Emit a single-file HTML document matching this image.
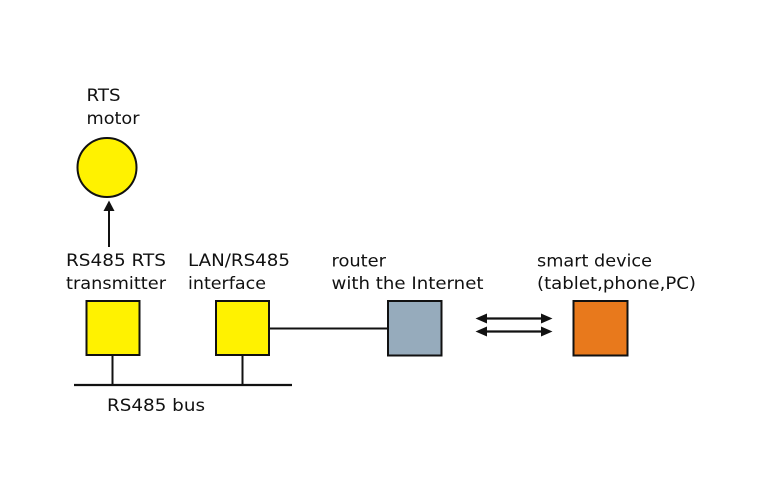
<!DOCTYPE html>
<html><head><meta charset="utf-8"><style>
html,body{margin:0;padding:0;background:#fff;}
svg{display:block;}
text{font-family:"DejaVu Sans","Liberation Sans",sans-serif;font-size:16.8px;fill:#111;}
</style></head><body>
<svg width="760" height="500" viewBox="0 0 760 500" xmlns="http://www.w3.org/2000/svg">
<rect width="760" height="500" fill="#fff"/>
<!-- motor -->
<circle cx="107" cy="167.5" r="29.5" fill="#FFF200" stroke="#111" stroke-width="2"/>
<!-- arrow up -->
<line x1="109" y1="247" x2="109" y2="210" stroke="#111" stroke-width="2"/>
<polygon points="109,200.5 103.5,211 114.5,211" fill="#111"/>
<!-- boxes -->
<rect x="86.5" y="301" width="53" height="54" fill="#FFF200" stroke="#111" stroke-width="2"/>
<rect x="216" y="301" width="53" height="54" fill="#FFF200" stroke="#111" stroke-width="2"/>
<rect x="388" y="301" width="53.5" height="54.5" fill="#96ABBC" stroke="#111" stroke-width="2"/>
<rect x="573.5" y="301" width="54" height="54.5" fill="#E8791C" stroke="#111" stroke-width="2"/>
<!-- bus -->
<line x1="74" y1="385" x2="292" y2="385" stroke="#111" stroke-width="2.2"/>
<line x1="112.5" y1="355" x2="112.5" y2="385" stroke="#111" stroke-width="2"/>
<line x1="242.5" y1="355" x2="242.5" y2="385" stroke="#111" stroke-width="2"/>
<!-- LAN to router -->
<line x1="269" y1="328.5" x2="388" y2="328.5" stroke="#111" stroke-width="2"/>
<!-- double arrows -->
<line x1="484" y1="318.5" x2="544" y2="318.5" stroke="#111" stroke-width="2.2"/>
<polygon points="475.5,318.5 487,313.5 487,323.5" fill="#111"/>
<polygon points="552.5,318.5 541,313.5 541,323.5" fill="#111"/>
<line x1="484" y1="331.5" x2="544" y2="331.5" stroke="#111" stroke-width="2.2"/>
<polygon points="475.5,331.5 487,326.5 487,336.5" fill="#111"/>
<polygon points="552.5,331.5 541,326.5 541,336.5" fill="#111"/>
<!-- labels -->
<text x="86.5" y="101" textLength="34" lengthAdjust="spacingAndGlyphs">RTS</text>
<text x="86.5" y="124" textLength="53" lengthAdjust="spacingAndGlyphs">motor</text>
<text x="66" y="266" textLength="100" lengthAdjust="spacingAndGlyphs">RS485 RTS</text>
<text x="66" y="289" textLength="100" lengthAdjust="spacingAndGlyphs">transmitter</text>
<text x="188" y="266" textLength="102" lengthAdjust="spacingAndGlyphs">LAN/RS485</text>
<text x="188" y="289" textLength="78" lengthAdjust="spacingAndGlyphs">interface</text>
<text x="331.5" y="266.5" textLength="54.5" lengthAdjust="spacingAndGlyphs">router</text>
<text x="331.5" y="289" textLength="152" lengthAdjust="spacingAndGlyphs">with the Internet</text>
<text x="537" y="266.5" textLength="115" lengthAdjust="spacingAndGlyphs">smart device</text>
<text x="537" y="289" textLength="159" lengthAdjust="spacingAndGlyphs">(tablet,phone,PC)</text>
<text x="107" y="411" textLength="98" lengthAdjust="spacingAndGlyphs">RS485 bus</text>
</svg>
</body></html>
